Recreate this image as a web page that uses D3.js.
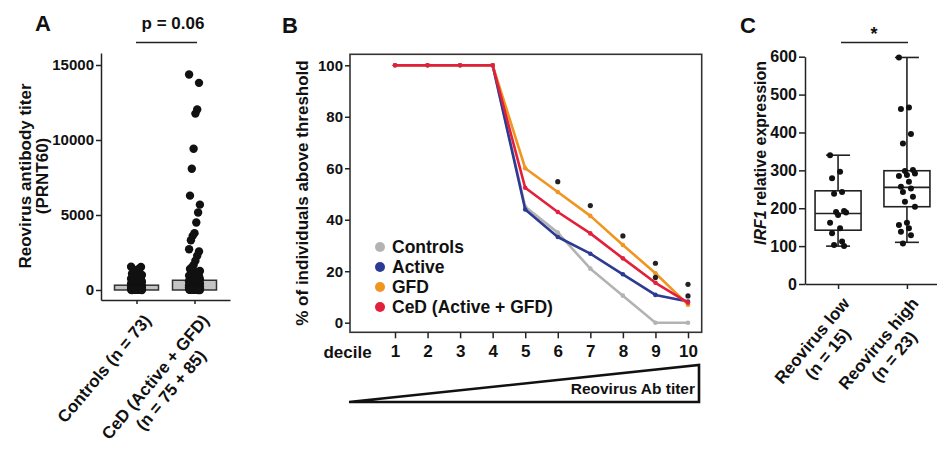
<!DOCTYPE html>
<html>
<head>
<meta charset="utf-8">
<script src="https://cdn.jsdelivr.net/npm/d3@7"></script>
<style>
  body { margin: 0; background: #fff; }
  text { font-family: "Liberation Sans", Arial, sans-serif; fill: #111; }
</style>
</head>
<body>
<script>
// ---- panel A data (titers, PRNT60) ----
const groupsA = ['Controls', 'CeD'];
const labelsA = [['Controls (n = 73)'], ['CeD (Active + GFD)', '(n = 75 + 85)']];
const controlsTiter = [1550, 1530, 1420, 1350, 1250, 1150, 1080, 1000, 950, 900, 870, 820, 780, 750,
  720, 680, 650, 620, 600, 580, 550, 520, 500, 480, 460, 440, 420, 400, 380, 360, 340, 320, 300,
  290, 280, 260, 250, 240, 220, 210, 200, 190, 180, 170, 160, 150, 140, 130, 120, 110, 100, 95,
  90, 85, 80, 70, 60, 55, 50, 45, 40, 35, 30, 25, 20, 20, 15, 10, 10, 5, 5, 0, 0];
const cedTiter = [14370, 13810, 12030, 11760, 9420, 8080, 6290, 5690, 5170, 4500, 3790, 3610, 3320,
  2720, 2570, 2280, 1950, 1670, 1500, 1400, 1270, 1200, 1150, 1100, 1050, 1000, 960, 920, 880, 850,
  820, 800, 760, 720, 700, 680, 650, 620, 600, 580, 560, 540, 520, 500, 480, 460, 440, 420, 400,
  380, 360, 340, 320, 300, 290, 280, 270, 260, 250, 240, 230, 220, 210, 200, 190, 180, 170, 160,
  150, 140, 130, 120, 110, 100, 90, 80, 70, 60, 50, 40, 30, 20, 15, 10, 5, 0, 0];
const boxALow = [0, 0];
const boxAHigh = [320, 650];
const ticksA = [0, 5000, 10000, 15000];

// ---- panel B data (% above threshold per decile) ----
const deciles = [1, 2, 3, 4, 5, 6, 7, 8, 9, 10];
const seriesNames = ['Controls', 'Active', 'GFD', 'CeD (Active + GFD)'];
const seriesColors = ['#b3b3b3', '#2c3a93', '#f0951f', '#e2203b'];
const pctControls = [100, 100, 100, 100, 45, 35, 21, 10.5, 0, 0];
const pctActive = [100, 100, 100, 100, 44, 33.3, 26.8, 18.8, 10.8, 8.2];
const pctGFD = [100, 100, 100, 100, 60, 50.8, 41.5, 30.2, 19.2, 7];
const pctCeD = [100, 100, 100, 100, 52.4, 43, 34.7, 25, 15.5, 7.8];
const starDecile = [6, 7, 8, 9, 9, 10, 10];
const starPct = [54.8, 45.5, 33.7, 23.1, 17.6, 14.9, 10.4];
const ticksB = [0, 20, 40, 60, 80, 100];

// ---- panel C data (IRF1 relative expression) ----
const groupsC = ['low', 'high'];
const labelsC = [['Reovirus low', '(n = 15)'], ['Reovirus high', '(n = 23)']];
const irfLow = [340, 296, 279, 243, 238, 193, 190, 189, 182, 162, 147, 134, 112, 103, 100];
const irfHigh = [598, 466, 462, 396, 371, 301, 298, 292, 288, 285, 270, 257, 252, 243, 230, 217,
  204, 162, 156, 147, 138, 129, 107];
const boxQ1 = [142, 204];
const boxMed = [186, 255];
const boxQ3 = [246, 299];
const whiskLo = [100, 110];
const whiskHi = [340, 598];
const ticksC = [0, 100, 200, 300, 400, 500, 600];

const svg = d3.select('body').append('svg')
  .attr('width', 937)
  .attr('height', 453);

function styleAxis(g, fs) {
  g.selectAll('path, line').attr('stroke', '#222').attr('stroke-width', 1.5);
  g.selectAll('text').attr('font-size', fs).attr('font-weight', 'bold').attr('fill', '#1a1a1a');
}

// rotated, centered multi-line category label; top-right of first line at (x, y)
function rotLabel(x, y, lines, angle, fs) {
  const g = svg.append('g').attr('transform', `translate(${x},${y}) rotate(${-angle})`);
  const t = g.append('text')
    .attr('text-anchor', 'middle')
    .attr('font-size', fs)
    .attr('font-weight', 'bold');
  lines.forEach((l, i) => {
    t.append('tspan').attr('x', 0).attr('dy', i ? '1.2em' : '0.72em').text(l);
  });
  const w = t.select('tspan').node().getComputedTextLength();
  t.attr('transform', `translate(${-w / 2},0)`);
}

function panelLetter(x, y, s) {
  svg.append('text').attr('x', x).attr('y', y)
    .attr('text-anchor', 'middle').attr('dominant-baseline', 'central')
    .attr('font-size', 22).attr('font-weight', 'bold').text(s);
}

// ================= Panel A =================
panelLetter(43, 23, 'A');

const yA = d3.scaleLinear().domain([-667, 15800]).range([300, 53]);
const xA = d3.scalePoint().domain(groupsA).range([101, 230]).padding(0.612);

svg.append('g')
  .attr('transform', 'translate(101,0)')
  .call(d3.axisLeft(yA).tickValues(ticksA).tickSize(5).tickSizeOuter(0).tickPadding(2)
    .tickFormat(d3.format('d')))
  .call(g => styleAxis(g, 15));

svg.append('g')
  .attr('transform', 'translate(0,300)')
  .call(d3.axisBottom(xA).tickSize(4).tickSizeOuter(0).tickFormat(''))
  .call(g => styleAxis(g, 15));

const titleA = svg.append('text')
  .attr('transform', 'translate(31,176) rotate(-90)')
  .attr('text-anchor', 'middle')
  .attr('font-size', 17)
  .attr('font-weight', 'bold');
titleA.append('tspan').attr('x', 0).attr('dy', 0).text('Reovirus antibody titer');
titleA.append('tspan').attr('x', 0).attr('dy', '1.0em').text('(PRNT60)');

svg.selectAll('rect.boxA')
  .data(groupsA)
  .enter()
  .append('rect')
  .attr('x', d => xA(d) - 22)
  .attr('width', 44)
  .attr('y', (d, i) => yA(boxAHigh[i]))
  .attr('height', (d, i) => yA(boxALow[i]) - yA(boxAHigh[i]))
  .style('fill', '#c4c4c4')
  .style('stroke', '#333')
  .style('stroke-width', 1.5);

[controlsTiter, cedTiter].forEach((vals, gi) => {
  svg.append('g').selectAll('circle')
    .data(vals)
    .enter()
    .append('circle')
    .attr('cx', (d, i) => xA(groupsA[gi]) + ((i * 37) % 13 - 6) * 0.9)
    .attr('cy', d => yA(d))
    .attr('r', 4.2)
    .style('fill', '#111');
});

svg.append('line')
  .attr('x1', 136).attr('x2', 197).attr('y1', 42.5).attr('y2', 42.5)
  .style('stroke', '#222').style('stroke-width', 1.5);
svg.append('text')
  .attr('x', 173).attr('y', 23)
  .attr('text-anchor', 'middle').attr('dominant-baseline', 'central')
  .attr('font-size', 17).attr('font-weight', 'bold')
  .text('p = 0.06');

groupsA.forEach((g, i) => rotLabel(xA(g) + 6, 313, labelsA[i], 50, 17));

// ================= Panel B =================
panelLetter(290, 25, 'B');

const xB = d3.scaleLinear().domain([1, 10]).range([395, 688]);
const yB = d3.scaleLinear().domain([0, 100]).range([322.7, 65.3]);

svg.append('rect')
  .attr('x', 350).attr('y', 54.3)
  .attr('width', 351.7).attr('height', 278)
  .style('fill', 'none').style('stroke', '#333').style('stroke-width', 1.6);

svg.append('g')
  .attr('transform', 'translate(350,0)')
  .call(d3.axisLeft(yB).tickValues(ticksB).tickSize(5).tickPadding(2))
  .call(g => g.select('.domain').remove())
  .call(g => styleAxis(g, 15));

svg.append('g')
  .attr('transform', 'translate(0,332.3)')
  .call(d3.axisBottom(xB).tickValues(deciles).tickSize(6).tickPadding(7).tickFormat(d3.format('d')))
  .call(g => g.select('.domain').remove())
  .call(g => styleAxis(g, 17));

svg.append('text')
  .attr('x', 371.7).attr('y', 357.5)
  .attr('text-anchor', 'end')
  .attr('font-size', 17).attr('font-weight', 'bold')
  .text('decile');

svg.append('text')
  .attr('transform', 'translate(308,193) rotate(-90)')
  .attr('text-anchor', 'middle')
  .attr('font-size', 17).attr('font-weight', 'bold')
  .text('% of individuals above threshold');

const lineB = d3.line()
  .x((d, i) => xB(deciles[i]))
  .y(d => yB(d));

[pctControls, pctActive, pctGFD, pctCeD].forEach((vals, si) => {
  svg.append('path')
    .attr('d', lineB(vals))
    .style('fill', 'none')
    .style('stroke', seriesColors[si])
    .style('stroke-width', 2.6)
    .style('stroke-linejoin', 'round');
  svg.append('g').selectAll('circle')
    .data(vals)
    .enter()
    .append('circle')
    .attr('cx', (d, i) => xB(deciles[i]))
    .attr('cy', d => yB(d))
    .attr('r', 2.3)
    .style('fill', seriesColors[si]);
});

svg.append('g').selectAll('circle')
  .data(starPct)
  .enter()
  .append('circle')
  .attr('cx', (d, i) => xB(starDecile[i]))
  .attr('cy', d => yB(d))
  .attr('r', 2.6)
  .style('fill', '#222');

const legB = svg.append('g');
seriesNames.forEach((s, i) => {
  const y = 247 + i * 20;
  legB.append('circle').attr('cx', 380).attr('cy', y).attr('r', 5).style('fill', seriesColors[i]);
  legB.append('text').attr('x', 392).attr('y', y)
    .attr('dominant-baseline', 'central')
    .attr('font-size', 17.5).attr('font-weight', 'bold')
    .text(s);
});

// titer wedge under the deciles
svg.append('path')
  .attr('d', d3.line()([[349, 402], [699, 402], [699, 365], [349, 402]]))
  .style('fill', 'none')
  .style('stroke', '#111')
  .style('stroke-width', 2.6)
  .style('stroke-linejoin', 'miter');
svg.append('text')
  .attr('x', 695).attr('y', 394)
  .attr('text-anchor', 'end')
  .attr('font-size', 15.5).attr('font-weight', 'bold')
  .text('Reovirus Ab titer');

// ================= Panel C =================
panelLetter(748, 25, 'C');

const yC = d3.scaleLinear().domain([0, 600]).range([284, 56.7]);
const xC = d3.scalePoint().domain(groupsC).range([805, 940]).padding(0.48);

svg.append('g')
  .attr('transform', 'translate(805,0)')
  .call(d3.axisLeft(yC).tickValues(ticksC).tickSize(6).tickSizeOuter(0).tickPadding(2))
  .call(g => styleAxis(g, 16));

svg.append('g')
  .attr('transform', 'translate(0,284)')
  .call(d3.axisBottom(xC).tickSize(5).tickSizeOuter(0).tickFormat(''))
  .call(g => styleAxis(g, 16));

const titleC = svg.append('text')
  .attr('transform', 'translate(766,153) rotate(-90)')
  .attr('text-anchor', 'middle')
  .attr('font-size', 16).attr('font-weight', 'bold');
titleC.append('tspan').attr('font-style', 'italic').text('IRF1');
titleC.append('tspan').text(' relative expression');

groupsC.forEach((g, i) => {
  const cx = xC(g);
  const c = svg.append('g').style('stroke', '#222').style('stroke-width', 1.6).style('fill', 'none');
  c.append('line').attr('x1', cx).attr('x2', cx).attr('y1', yC(whiskHi[i])).attr('y2', yC(boxQ3[i]));
  c.append('line').attr('x1', cx).attr('x2', cx).attr('y1', yC(boxQ1[i])).attr('y2', yC(whiskLo[i]));
  c.append('line').attr('x1', cx - 12).attr('x2', cx + 12).attr('y1', yC(whiskHi[i])).attr('y2', yC(whiskHi[i]));
  c.append('line').attr('x1', cx - 12).attr('x2', cx + 12).attr('y1', yC(whiskLo[i])).attr('y2', yC(whiskLo[i]));
  c.append('rect')
    .attr('x', cx - 23).attr('width', 46)
    .attr('y', yC(boxQ3[i])).attr('height', yC(boxQ1[i]) - yC(boxQ3[i]));
  c.append('line').attr('x1', cx - 23).attr('x2', cx + 23).attr('y1', yC(boxMed[i])).attr('y2', yC(boxMed[i]));
});

[irfLow, irfHigh].forEach((vals, gi) => {
  svg.append('g').selectAll('circle')
    .data(vals)
    .enter()
    .append('circle')
    .attr('cx', (d, i) => xC(groupsC[gi]) + ((i * 5) % 9 - 4) * 2)
    .attr('cy', d => yC(d))
    .attr('r', 3)
    .style('fill', '#111');
});

svg.append('line')
  .attr('x1', 841).attr('x2', 908).attr('y1', 42.5).attr('y2', 42.5)
  .style('stroke', '#222').style('stroke-width', 1.5);
svg.append('text')
  .attr('x', 874).attr('y', 40)
  .attr('text-anchor', 'middle')
  .attr('font-size', 18).attr('font-weight', 'bold')
  .text('*');

groupsC.forEach((g, i) => rotLabel(xC(g) + 3, 296, labelsC[i], 50, 17));
</script>
</body>
</html>
